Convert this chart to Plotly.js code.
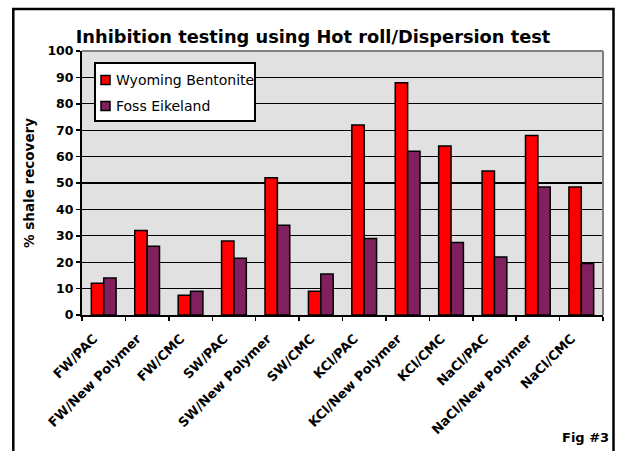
<!DOCTYPE html>
<html><head><meta charset="utf-8">
<script src="https://cdn.plot.ly/plotly-3.0.1.min.js"></script>
<style>body{margin:0;background:#fff}#c{width:623px;height:451px}</style>
</head><body><div id="c"></div>
<script>
const categories = ["FW/PAC","FW/New Polymer","FW/CMC","SW/PAC","SW/New Polymer","SW/CMC","KCl/PAC","KCl/New Polymer","KCl/CMC","NaCl/PAC","NaCl/New Polymer","NaCl/CMC"];
const seriesNames = ["Wyoming Bentonite", "Foss Eikeland"];
const wyoming = [12, 32, 7.5, 28, 52, 9, 72, 88, 64, 54.5, 68, 48.5];
const foss = [14, 26, 9, 21.5, 34, 15.5, 29, 62, 27.5, 22, 48.5, 19.5];
const yTicks = [0,10,20,30,40,50,60,70,80,90,100];
const colors = ['#FF0000', '#80205F'];

const W=623, H=451, L=82, R=603, T=51, B=315;
const px = x => (x-L)/(R-L), py = y => (B-y)/(B-T);
const FONT = 'DejaVu Sans, Verdana, sans-serif';

const traces = [wyoming, foss].map((v,i) => ({
  type:'bar', name:seriesNames[i], x:categories, y:v,
  marker:{color:colors[i], line:{color:'#000', width:1.5}}
}));

// manual legend (box, swatches, labels)
const legShapes = [
  {type:'rect', xref:'paper', yref:'paper', x0:px(95), x1:px(255), y0:py(121), y1:py(63),
   line:{color:'#000', width:2}, fillcolor:'#fff', layer:'above'}
];
const legAnn = [];
const legY = [80, 106];
seriesNames.forEach((n,i) => {
  legShapes.push({type:'rect', xref:'paper', yref:'paper', x0:px(101), x1:px(110), y0:py(legY[i]+4.5), y1:py(legY[i]-4.5),
    line:{color:'#000', width:1.5}, fillcolor:colors[i], layer:'above'});
  legAnn.push({text:n, xref:'paper', yref:'paper', x:px(114), y:py(legY[i]), xanchor:'left', yanchor:'middle',
    showarrow:false, font:{size:14, family:FONT}});
});

const layout = {
 width:W, height:H, margin:{l:L, r:W-R, t:T, b:H-B},
 paper_bgcolor:'#fff', plot_bgcolor:'#E1E1E1',
 barmode:'group', bargap:0.43, bargroupgap:0, showlegend:false,
 font:{family:FONT, color:'#000'},
 title:{text:'<b>Inhibition testing using Hot roll/Dispersion test</b>', font:{size:17.8, family:FONT},
   xref:'paper', x:px(313), xanchor:'center', yref:'container', y:1-(36.7/H), yanchor:'middle'},
 xaxis:{type:'category', tickangle:-45, tickson:'boundaries', ticks:'outside', ticklen:4, tickwidth:1.5, tickcolor:'#000',
   showline:true, linecolor:'#000', linewidth:2, showgrid:false, ticklabelstandoff:9, ticklabelshift:-10,
   tickfont:{size:13, family:FONT, weight:'bold'}},
 yaxis:{range:[0,100], tickvals:yTicks, ticktext:yTicks.map(String), ticks:'outside', ticklen:4, tickwidth:1.5, tickcolor:'#000',
   showline:true, linecolor:'#000', linewidth:2, gridcolor:'#000', gridwidth:1.2, zeroline:false,
   tickfont:{size:12.5, family:FONT, weight:'bold'},
   title:{text:'<b>% shale recovery</b>', font:{size:13.5, family:FONT}, standoff:10}},
 shapes:[
  {type:'line', xref:'paper', yref:'paper', x0:0, x1:1, y0:1, y1:1, line:{color:'#808080', width:2}},
  {type:'line', xref:'paper', yref:'paper', x0:1, x1:1, y0:0, y1:1, line:{color:'#808080', width:2}},
  {type:'rect', xref:'paper', yref:'paper', x0:px(13.3), x1:px(613.5), y0:py(470), y1:py(9), line:{color:'#000', width:2.5}},
  ...legShapes
 ],
 annotations:[
  {text:'<b>Fig #3</b>', xref:'paper', yref:'paper', x:px(611), y:py(437), xanchor:'right', yanchor:'middle', showarrow:false, font:{size:13, family:FONT}},
  ...legAnn
 ]
};
Plotly.newPlot('c', traces, layout, {displayModeBar:false, staticPlot:true});
</script></body></html>
